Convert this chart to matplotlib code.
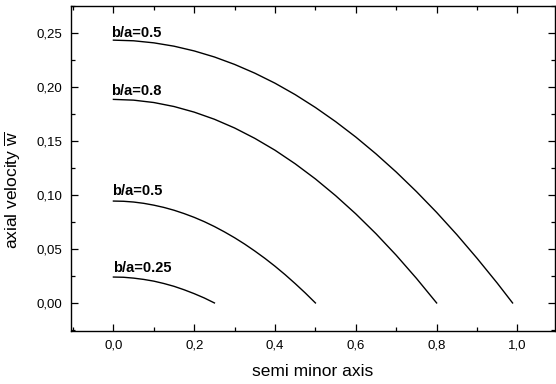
import matplotlib
matplotlib.use("Agg")
import matplotlib.pyplot as plt
from matplotlib.ticker import MultipleLocator, FuncFormatter

plt.rcParams["font.family"] = ["Liberation Sans", "DejaVu Sans"]
plt.rcParams["mathtext.fontset"] = "custom"
plt.rcParams["mathtext.rm"] = "Liberation Sans"

# curves: semi minor axis vs axial velocity
x_top = [0.0, 0.05, 0.1, 0.15, 0.2, 0.25, 0.3, 0.35, 0.4, 0.45, 0.5, 0.55,
         0.6, 0.65, 0.7, 0.75, 0.8, 0.85, 0.9, 0.95, 0.988]
w_top = [0.2435, 0.2429, 0.2410, 0.2379, 0.2335, 0.2279, 0.2210, 0.2129,
         0.2036, 0.1930, 0.1811, 0.1680, 0.1537, 0.1381, 0.1213, 0.1032,
         0.0839, 0.0633, 0.0414, 0.0184, 0.0]

x_08 = [0.0, 0.05, 0.1, 0.15, 0.2, 0.25, 0.3, 0.35, 0.4, 0.45, 0.5, 0.55,
        0.6, 0.65, 0.7, 0.75, 0.8]
w_08 = [0.1886, 0.1879, 0.1857, 0.1820, 0.1768, 0.1702, 0.1621, 0.1525,
        0.1415, 0.1289, 0.1149, 0.0994, 0.0825, 0.0641, 0.0442, 0.0228, 0.0]

x_05 = [0.0, 0.025, 0.05, 0.075, 0.1, 0.125, 0.15, 0.175, 0.2, 0.225, 0.25,
        0.275, 0.3, 0.325, 0.35, 0.375, 0.4, 0.425, 0.45, 0.475, 0.5]
w_05 = [0.0944, 0.0942, 0.0935, 0.0923, 0.0906, 0.0885, 0.0859, 0.0828,
        0.0793, 0.0753, 0.0708, 0.0658, 0.0604, 0.0545, 0.0481, 0.0413,
        0.0340, 0.0262, 0.0179, 0.0092, 0.0]

x_025 = [0.0, 0.025, 0.05, 0.075, 0.1, 0.125, 0.15, 0.175, 0.2, 0.225, 0.25]
w_025 = [0.0240, 0.0238, 0.0230, 0.0218, 0.0202, 0.0180, 0.0154, 0.0122,
         0.0086, 0.0046, 0.0]

labels = ["b/a=0.5", "b/a=0.8", "b/a=0.5", "b/a=0.25"]
label_x = [-0.006, -0.006, -0.003, 0.0]
label_y = [0.2466, 0.1926, 0.1000, 0.0290]

fig = plt.figure(figsize=(5.56, 3.84), dpi=100)
ax = fig.add_axes([0.1277, 0.138, 0.8705, 0.846])

for xs, ws in [(x_top, w_top), (x_08, w_08), (x_05, w_05), (x_025, w_025)]:
    ax.plot(xs, ws, color="black", lw=1.0)

for t, lx, ly in zip(labels, label_x, label_y):
    ax.text(lx, ly, t, fontsize=10.5, fontweight="bold", va="baseline", ha="left")

ax.set_xlim(-0.105, 1.093)
ax.set_ylim(-0.026, 0.275)

ax.xaxis.set_major_locator(MultipleLocator(0.2))
ax.xaxis.set_minor_locator(MultipleLocator(0.1))
ax.yaxis.set_major_locator(MultipleLocator(0.05))
ax.yaxis.set_minor_locator(MultipleLocator(0.025))
ax.xaxis.set_major_formatter(FuncFormatter(lambda v, p: f"{v:.1f}".replace(".", ",")))
ax.yaxis.set_major_formatter(FuncFormatter(lambda v, p: f"{v:.2f}".replace(".", ",")))

ax.tick_params(which="both", direction="in", top=True, right=True,
               labelsize=9.5, pad=6, width=0.9)
ax.tick_params(which="major", length=5)
ax.tick_params(which="minor", length=3)
for s in ax.spines.values():
    s.set_linewidth(1.0)

ax.set_xlabel("semi minor axis", fontsize=12.5, labelpad=9)
ax.set_ylabel(r"axial velocity $\overline{\mathrm{w}}$", fontsize=12.5)
ax.yaxis.set_label_coords(-0.1, 0.434)

fig.savefig("out.png", dpi=100)
